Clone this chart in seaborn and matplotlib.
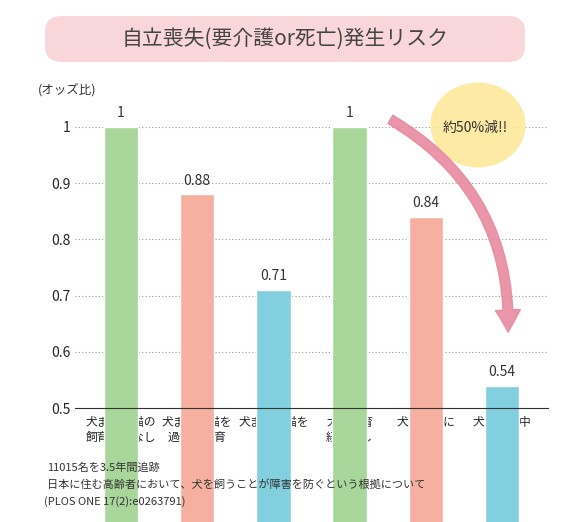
import matplotlib
matplotlib.use("Agg")
import matplotlib.pyplot as plt
import seaborn as sns
import pandas as pd
from matplotlib.patches import FancyBboxPatch, FancyArrowPatch, Ellipse

sns.set_style("white")
plt.rcParams['font.family'] = ['Noto Sans CJK JP', 'DejaVu Sans']

categories = ["犬または猫の\n飼育経験なし", "犬または猫を\n過去に飼育", "犬または猫を\n飼育中",
              "犬の飼育\n経験なし", "犬を過去に\n飼育", "犬を飼育中"]
values = [1.0, 0.88, 0.71, 1.0, 0.84, 0.54]
labels = ["1", "0.88", "0.71", "1", "0.84", "0.54"]
colors = ["#a9d69b", "#f5b09f", "#82cfe0", "#a9d69b", "#f5b09f", "#82cfe0"]
yticks = [0.5, 0.6, 0.7, 0.8, 0.9, 1.0]
ytick_labels = ["0.5", "0.6", "0.7", "0.8", "0.9", "1"]

W, H = 570, 522
fig = plt.figure(figsize=(W/100, H/100), dpi=100)
ax = fig.add_axes([75/W, 1-408/H, (548-75)/W, (408-127)/H])
df = pd.DataFrame({"cat": categories, "val": values})
sns.barplot(data=df, x="cat", y="val", hue="cat", palette=colors, legend=False,
            width=0.45, ax=ax, saturation=1)
ax.set_ylim(0.5, 1.0)
ax.set_yticks(yticks)
ax.set_yticklabels(ytick_labels, fontsize=10)
for y in yticks[1:]:
    ax.axhline(y, color="#999999", ls=(0, (1, 2)), lw=0.8, zorder=0)
for i, (v, l) in enumerate(zip(values, labels)):
    ax.text(i, v + 0.012, l, ha="center", va="bottom", fontsize=10, color="#333")
ax.set_xlabel(""); ax.set_ylabel("")
ax.tick_params(axis="x", length=0, labelsize=8.5, pad=6)
ax.tick_params(axis="y", length=0)
for s in ["top", "right", "left"]:
    ax.spines[s].set_visible(False)
ax.spines["bottom"].set_color("#333")
ax.set_xlim(-0.6, 5.6)
for b in ax.patches:
    b.set_zorder(2)
    b.set_clip_on(False)

fig.text(38/W, 1-90/H, "(オッズ比)", fontsize=9, va="center", color="#333")

banner = FancyBboxPatch((45/W, 1-62/H), 480/W, 46/H, boxstyle="round,pad=0,rounding_size=0.03",
                        transform=fig.transFigure, facecolor="#f9d6da", edgecolor="none")
fig.patches.append(banner)
fig.text(285/W, 1-39/H, "自立喪失(要介護or死亡)発生リスク", ha="center", va="center",
         fontsize=15, color="#444")

fig.patches.append(Ellipse((478/W, 1-125/H), 95/W, 85/H, transform=fig.transFigure,
                           facecolor="#fde89a", edgecolor="none", alpha=0.9, zorder=0))
fig.text(475/W, 1-128/H, "約50%減!!", ha="center", va="center", fontsize=10, color="#333")

arr = FancyArrowPatch((388/W, 1-118/H), (508/W, 1-335/H), transform=fig.transFigure,
                      connectionstyle="arc3,rad=-0.3",
                      arrowstyle="simple,head_width=18,head_length=16,tail_width=7",
                      color="#e88aa0", alpha=0.9)
fig.patches.append(arr)

fig.text(47/W, 1-468/H, "11015名を3.5年間追跡", fontsize=8, va="center", color="#333")
fig.text(47/W, 1-485/H, "日本に住む高齢者において、犬を飼うことが障害を防ぐという根拠について", fontsize=8, va="center", color="#333")
fig.text(44/W, 1-502/H, "(PLOS ONE 17(2):e0263791)", fontsize=8, va="center", color="#333")

fig.savefig("out.png", dpi=100)
